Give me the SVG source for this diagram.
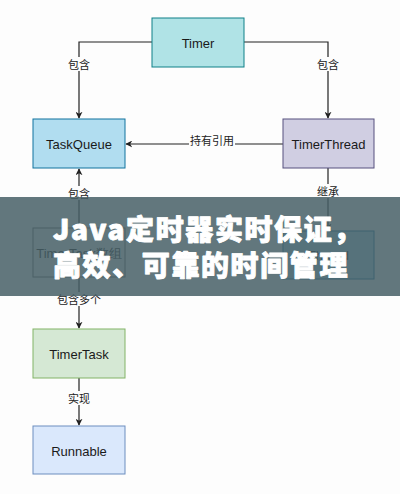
<svg xmlns="http://www.w3.org/2000/svg" width="400" height="494" viewBox="0 0 400 494">
<style>
.node text{font-family:"Liberation Sans",Arial,sans-serif;font-size:13px;fill:#1a1a1a;text-anchor:middle;dominant-baseline:central}
.edge path{fill:none;stroke:#222;stroke-width:1.2}
.lbl{font-family:"Noto Sans CJK SC","Noto Sans",sans-serif;font-size:11px;fill:#222;text-anchor:middle;dominant-baseline:central}
.lblbg{fill:#fdfdfd}
.banner text{font-family:"Noto Sans CJK SC","Noto Sans",sans-serif;font-weight:900;font-size:28px;letter-spacing:1.6px;fill:#fff;stroke:#fff;stroke-width:0.9px;stroke-linejoin:round}
</style>
<defs>
<marker id="arr" viewBox="0 0 10 10" refX="9" refY="5" markerWidth="7" markerHeight="7" markerUnits="userSpaceOnUse" orient="auto">
<path d="M0,0 L10,5 L0,10 L3,5 Z" fill="#222"/>
</marker>
</defs>
<rect width="400" height="494" fill="#fdfdfd"/>
<g class="edge" id="connectors">
<path d="M152,42 H79 V118" marker-end="url(#arr)"/>
<path d="M244,42 H328 V118" marker-end="url(#arr)"/>
<path d="M283,144 H126" marker-end="url(#arr)"/>
<path d="M79,228 V169" marker-end="url(#arr)"/>
<path d="M328,168 V230" marker-end="url(#arr)"/>
<path d="M79,277 V328" marker-end="url(#arr)"/>
<path d="M79,378 V425" marker-end="url(#arr)"/>
<rect class="lblbg" x="68" y="57" width="22" height="14"/>
<text class="lbl" x="79" y="64">包含</text>
<rect class="lblbg" x="317" y="57" width="22" height="14"/>
<text class="lbl" x="328" y="64">包含</text>
<rect class="lblbg" x="189" y="134" width="46" height="13"/>
<text class="lbl" x="212" y="140">持有引用</text>
<rect class="lblbg" x="68" y="186" width="22" height="14"/>
<text class="lbl" x="79" y="193">包含</text>
<rect class="lblbg" x="317" y="184" width="22" height="14"/>
<text class="lbl" x="328" y="191">继承</text>
<rect class="lblbg" x="57" y="292" width="44" height="14"/>
<text class="lbl" x="79" y="299">包含多个</text>
<rect class="lblbg" x="68" y="391" width="22" height="14"/>
<text class="lbl" x="79" y="398">实现</text>
</g>
<g class="node" id="timer"><rect x="152" y="18" width="92" height="49" fill="#b0e3e6" stroke="#0e8088"/><text x="198" y="43">Timer</text></g>
<g class="node" id="taskqueue"><rect x="33" y="119" width="92" height="49" fill="#b1ddf0" stroke="#10739e"/><text x="79" y="144">TaskQueue</text></g>
<g class="node" id="timerthread"><rect x="283" y="119" width="91" height="49" fill="#d0cee2" stroke="#56517e"/><text x="328.5" y="144">TimerThread</text></g>
<g class="node" id="tasks"><rect x="33" y="228" width="92" height="49" fill="#f5f5f5" stroke="#666"/><text x="79" y="253">TimerTask数组</text></g>
<g class="node" id="thread"><rect x="283" y="231" width="91" height="48" fill="#b1ddf0" stroke="#10739e"/><text x="328.5" y="255">Thread</text></g>
<g class="node" id="timertask"><rect x="33" y="329" width="92" height="49" fill="#d5e8d4" stroke="#82b366"/><text x="79" y="354">TimerTask</text></g>
<g class="node" id="runnable"><rect x="33" y="426" width="92" height="48" fill="#dae8fc" stroke="#6c8ebf"/><text x="79" y="451">Runnable</text></g>
<g class="banner">
<rect x="0" y="197" width="400" height="99" fill="rgb(70,95,102)" fill-opacity="0.85"/>
<text x="53" y="240">Java定时器实时保证，</text>
<text x="53" y="276">高效、可靠的时间管理</text>
</g>
</svg>
